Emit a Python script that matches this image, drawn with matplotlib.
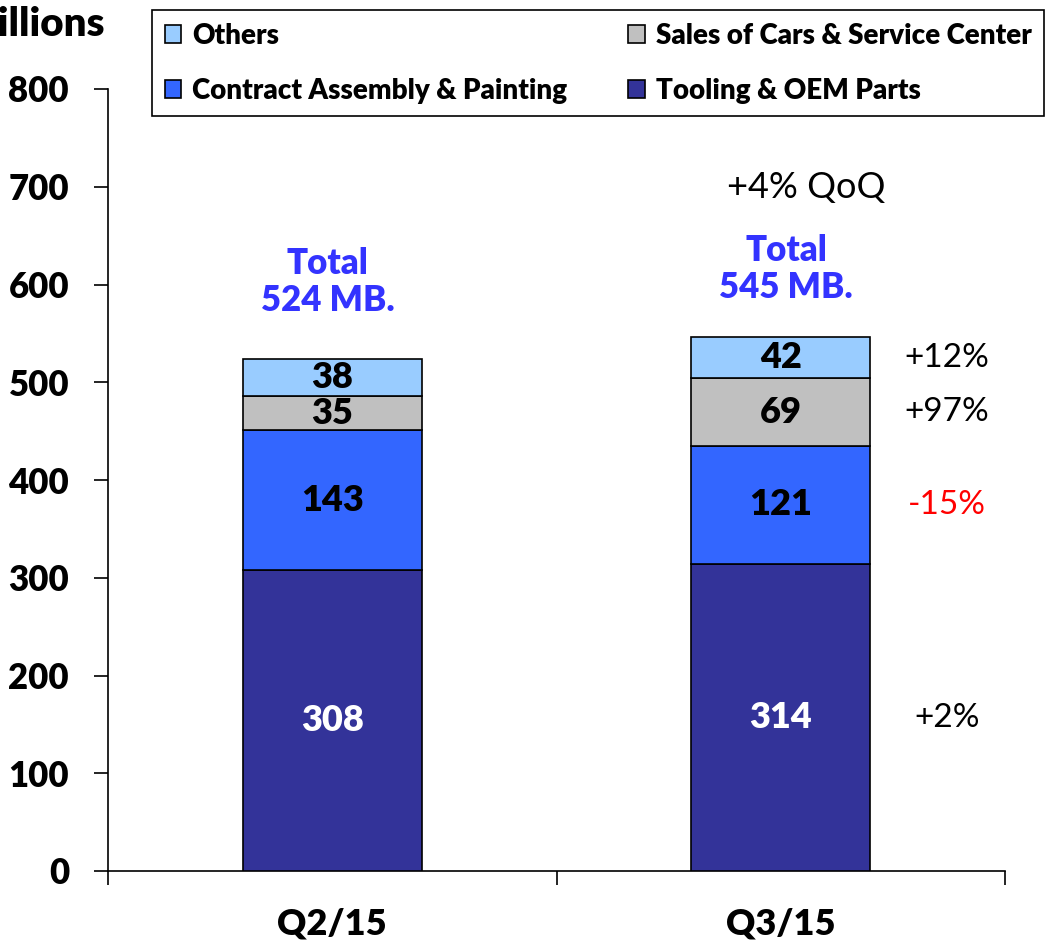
import numpy as np
import matplotlib
matplotlib.use('Agg')
import matplotlib.pyplot as plt

plt.rcParams['font.family'] = ['Lato', 'DejaVu Sans']

quarters = ['Q2/15', 'Q3/15']
segments = ['Tooling & OEM Parts', 'Contract Assembly & Painting',
            'Sales of Cars & Service Center', 'Others']
tooling = [308, 314]
contract = [143, 121]
sales = [35, 69]
others = [38, 42]
totals = [524, 545]
changes = ['+2%', '-15%', '+97%', '+12%']
change_colors = ['black', 'red', 'black', 'black']
value_colors = ['white', 'black', 'black', 'black']
colors = ['#333399', '#3366FF', '#C0C0C0', '#99CCFF']

fig = plt.figure(figsize=(10.47, 9.41), dpi=100)
ax = fig.add_axes([108 / 1047, 70 / 941, 897 / 1047, 782 / 941])

x = np.arange(len(quarters))
bottom = np.zeros(len(quarters))
bars = {}
for name, vals, col, vcol in zip(segments, [tooling, contract, sales, others], colors, value_colors):
    vals = np.array(vals, dtype=float)
    bars[name] = ax.bar(x, vals, 0.4, bottom=bottom, color=col, edgecolor='black', linewidth=1.2, zorder=3)
    for xi, b, v in zip(x, bottom, vals):
        ax.text(xi, b + v / 2, f'{int(v)}', ha='center', va='center', fontsize=26,
                fontweight='heavy', color=vcol, zorder=4)
    bottom = bottom + vals

# QoQ changes next to Q3 bar
mids = np.cumsum([0] + [s[1] for s in [tooling, contract, sales]])
q3_vals = [tooling[1], contract[1], sales[1], others[1]]
for m, v, txt, c in zip(mids, q3_vals, changes, change_colors):
    ax.text(1.37, m + v / 2, txt, ha='center', va='center', fontsize=24, color=c)

ax.text(1.056, 699, '+4% QoQ', ha='center', va='center', fontsize=26, color='black')
ax.text(-0.01, 603, f'Total\n{totals[0]} MB.', ha='center', va='center', fontsize=25,
        fontweight='heavy', color='#3333FF', linespacing=1.15)
ax.text(1.012, 616, f'Total\n{totals[1]} MB.', ha='center', va='center', fontsize=25,
        fontweight='heavy', color='#3333FF', linespacing=1.15)

ax.set_xlim(-0.5, 1.5)
ax.set_ylim(0, 800)
ax.set_yticks(np.arange(0, 801, 100))
ax.set_xticks(x)
ax.set_xticklabels(quarters, fontsize=26, fontweight='heavy')
ax.set_xticks([-0.5, 0.5, 1.5], minor=True)
ax.tick_params(axis='x', which='major', length=0, pad=26)
ax.tick_params(axis='x', which='minor', length=10, width=1.2, direction='out')
ax.tick_params(axis='y', length=10, width=1.2, direction='out', pad=18, labelsize=25)
for lab in ax.get_yticklabels():
    lab.set_fontweight('heavy')
ax.spines['top'].set_visible(False)
ax.spines['right'].set_visible(False)
ax.spines['left'].set_linewidth(1.2)
ax.spines['bottom'].set_linewidth(1.2)

fig.text(105 / 1047, 1 - 24 / 941, 'Millions', ha='right', va='center', fontsize=29, fontweight='heavy')

handles = [bars['Others'], bars['Contract Assembly & Painting'],
           bars['Sales of Cars & Service Center'], bars['Tooling & OEM Parts']]
labels = ['Others', 'Contract Assembly & Painting', 'Sales of Cars & Service Center', 'Tooling & OEM Parts']
leg = fig.legend(handles, labels, ncol=2, loc='upper left', mode='expand',
                 bbox_to_anchor=(152 / 1047, 1 - 121 / 941, 892 / 1047, 111 / 941),
                 bbox_transform=fig.transFigure, prop={'size': 20, 'weight': 'heavy'},
                 fancybox=False, edgecolor='black', framealpha=1, handlelength=0.6,
                 handleheight=0.6, handletextpad=0.4, labelspacing=1.05, borderpad=0.45,
                 borderaxespad=0)
leg.get_frame().set_linewidth(1.2)

fig.savefig('out.png', dpi=100)
